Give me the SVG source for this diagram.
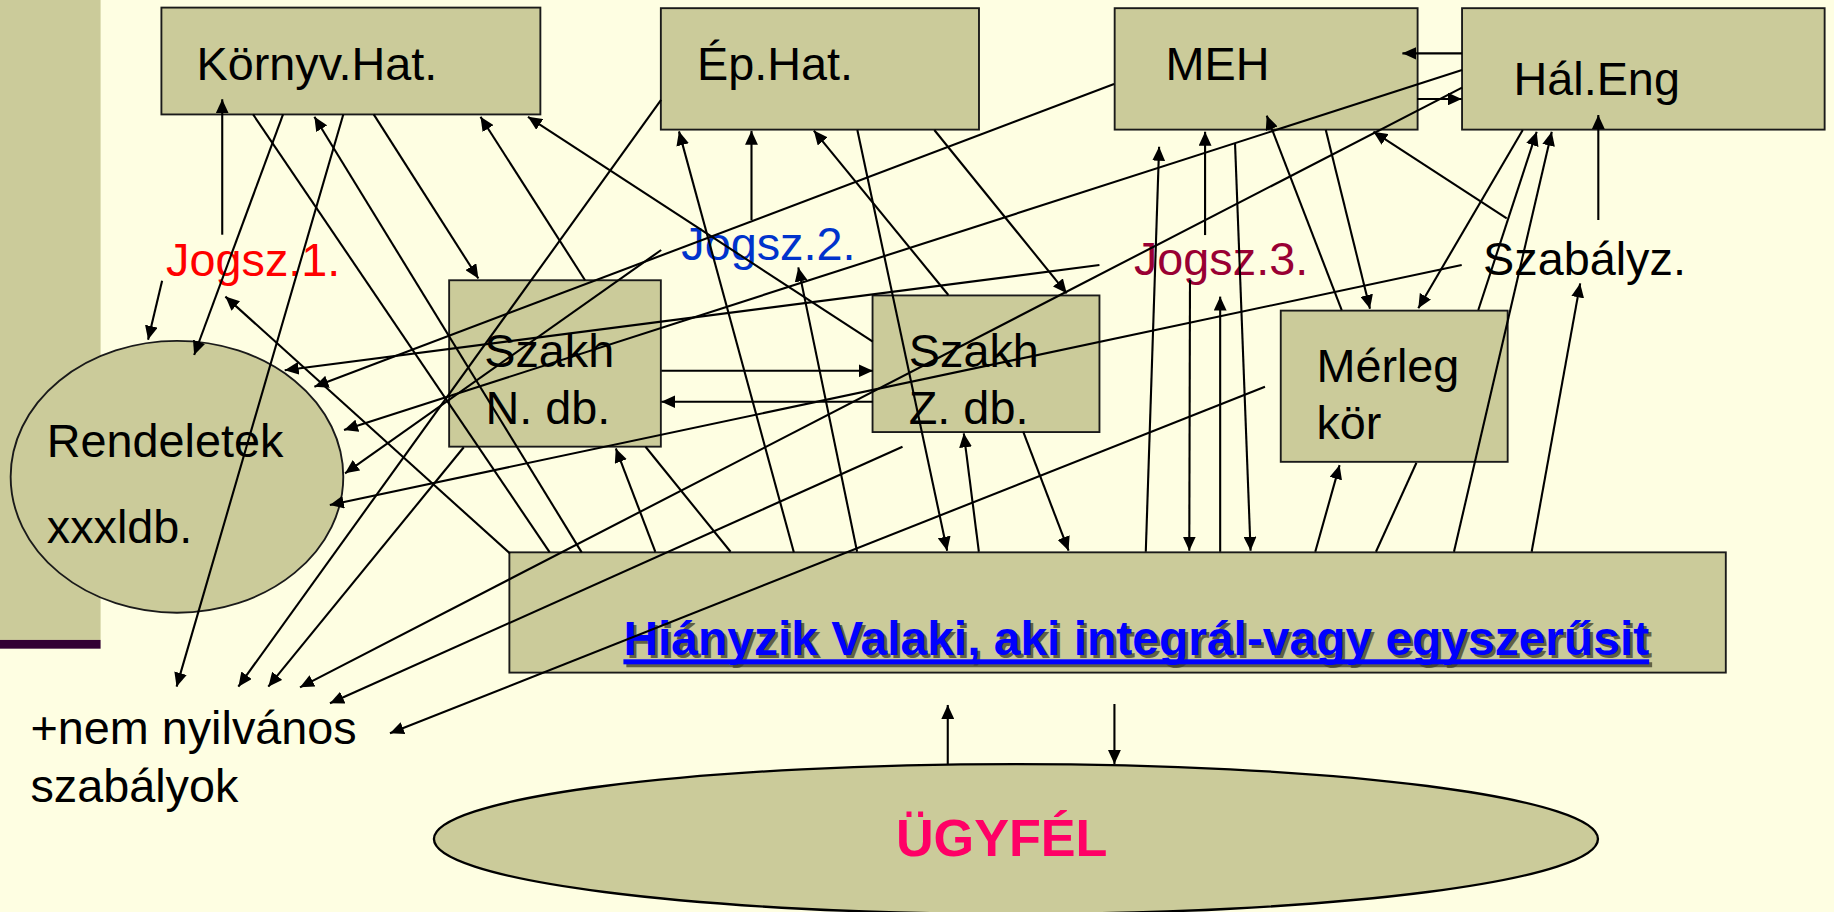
<svg xmlns="http://www.w3.org/2000/svg" width="1834" height="912" viewBox="0 0 1834 912">
<defs>
<marker id="ah" markerUnits="userSpaceOnUse" markerWidth="12" markerHeight="11" refX="12" refY="5.5" orient="auto" viewBox="0 0 12 11"><path d="M0,0 L12,5.5 L0,11 z" fill="#000"/></marker>
</defs>
<style>
.box{fill:#CBCB9A;stroke:#1a1a1a;stroke-width:1.6}
.t{font-family:"Liberation Sans",Arial,sans-serif;font-size:40px;fill:#000}
.b{font-family:"Liberation Sans",Arial,sans-serif;font-weight:bold}
.c path{fill:none;stroke:#000;stroke-width:1.8}
.c path.a{marker-end:url(#ah)}
</style>
<rect width="1834" height="912" fill="#FEFEE2"/>
<g transform="scale(1.16964,1.16773)">
<g id="sidebar">
<rect x="0" y="0" width="86" height="548" fill="#CBCB9A"/>
<rect x="0" y="548" width="86" height="7.5" fill="#330033"/>
</g>
<g id="kornyv"><rect class="box" x="138" y="6.5" width="324" height="91.5"/><text class="t" x="168" y="68.5">Környv.Hat.</text></g>
<g id="ephat"><rect class="box" x="565" y="7" width="272" height="104"/><text class="t" x="596" y="68.5">Ép.Hat.</text></g>
<g id="meh"><rect class="box" x="953" y="7" width="259" height="104"/><text class="t" x="996.5" y="68.5">MEH</text></g>
<g id="haleng"><rect class="box" x="1250" y="7" width="310" height="104"/><text class="t" x="1294" y="81.5">Hál.Eng</text></g>
<g id="szakhn"><rect class="box" x="384" y="240" width="181" height="142.5"/><text class="t" x="414" y="314">Szakh</text><text class="t" x="415" y="363">N. db.</text></g>
<g id="szakhz"><rect class="box" x="746" y="253" width="194" height="117"/><text class="t" x="777" y="314">Szakh</text><text class="t" x="777" y="363">Z. db.</text></g>
<g id="merleg"><rect class="box" x="1095" y="266" width="194" height="129.5"/><text class="t" x="1125.5" y="327.5">Mérleg</text><text class="t" x="1125.5" y="376">kör</text></g>
<g id="rendeletek"><ellipse class="box" cx="151.3" cy="408.3" rx="142.2" ry="116.4"/><text class="t" x="40" y="391">Rendeletek</text><text class="t" x="40" y="465.3">xxxldb.</text></g>
<g id="hianyzik"><rect class="box" x="435.5" y="473" width="1040" height="103"/>
<text class="b" x="535.5" y="563.5" font-size="41" fill="#3d3d28" fill-opacity="0.75" textLength="877" lengthAdjust="spacingAndGlyphs">Hiányzik Valaki, aki integrál-vagy egyszerűsit</text>
<rect x="535.5" y="567.1" width="877" height="4.3" fill="#3d3d28" fill-opacity="0.75"/>
<text class="b" x="533" y="561" font-size="41" fill="#0000FF" textLength="877" lengthAdjust="spacingAndGlyphs">Hiányzik Valaki, aki integrál-vagy egyszerűsit</text>
<rect x="533" y="564.6" width="877" height="4.3" fill="#0000FF"/>
</g>
<g id="ugyfel"><ellipse cx="868.6" cy="718.5" rx="497.6" ry="64.2" fill="#CBCB9A" stroke="#000" stroke-width="2"/><text class="b" x="766" y="733" font-size="44.6" fill="#FF0066">ÜGYFÉL</text></g>
<g id="jogsz1"><text class="t" x="142" y="236.4" fill="#FF0000" style="fill:#FF0000">Jogsz.1.</text></g>
<g id="jogsz2"><text class="t" x="582.5" y="222.7" style="fill:#0033CC">Jogsz.2.</text></g>
<g id="jogsz3"><text class="t" x="969.5" y="235.5" style="fill:#990033">Jogsz.3.</text></g>
<g id="szabalyz"><text class="t" x="1268" y="235.5">Szabályz.</text></g>
<g id="nemnyilv"><text class="t" x="26" y="637">+nem nyilvános</text><text class="t" x="26" y="686.5">szabályok</text></g>
<g id="connectors" class="c">
<path class="a" d="M190,201 L190,85"/>
<path class="a" d="M138.6,240.4 L126.6,291"/>
<path class="a" d="M242,98 L166,304"/>
<path class="a" d="M293.5,98 L151,588"/>
<path d="M216.4,98 L470,473"/>
<path class="a" d="M497.3,473 L268.8,100"/>
<path class="a" d="M319.5,98 L409,238.5"/>
<path class="a" d="M500.2,240 L410.8,100"/>
<path class="a" d="M746.2,292.6 L451.4,100"/>
<path class="a" d="M565.2,85.6 L203.8,588"/>
<path class="a" d="M436,474 L192.7,254"/>
<path class="a" d="M940,227 L243.4,317"/>
<path class="a" d="M952.5,72 L268.8,331.2"/>
<path class="a" d="M1250,60 L294.1,368.3"/>
<path class="a" d="M1250,75 L256.5,588.6"/>
<path class="a" d="M565.3,214.1 L295,405.3"/>
<path class="a" d="M1249.7,227 L282,432.5"/>
<path class="a" d="M396.5,383 L229.4,588"/>
<path class="a" d="M771.6,382.6 L282.1,602.3"/>
<path class="a" d="M1081.5,331.2 L333.4,628"/>
<path class="a" d="M642.5,188.4 L642.5,112"/>
<path class="a" d="M678.7,473 L580.5,112.5"/>
<path class="a" d="M810.8,252.6 L695.8,111.8"/>
<path class="a" d="M733,111.3 L809.8,471.6"/>
<path class="a" d="M798.8,111.3 L912,251.2"/>
<path class="a" d="M732.8,472.5 L682.5,229"/>
<path class="a" d="M979.6,472.5 L991,125.6"/>
<path class="a" d="M1030.3,201.3 L1030.3,112.8"/>
<path class="a" d="M1017.4,239.8 L1016.8,471.6"/>
<path class="a" d="M1043.2,472.5 L1043.2,254"/>
<path class="a" d="M1250,45.7 L1199,45.7"/>
<path class="a" d="M1211.6,84.8 L1249.7,84.8"/>
<path class="a" d="M1147.1,265.5 L1083,99"/>
<path class="a" d="M1133.5,111.3 L1171.3,264.5"/>
<path class="a" d="M1055.9,122.7 L1069.2,471.6"/>
<path class="a" d="M1301.9,111.3 L1212.6,264"/>
<path class="a" d="M1263.9,265.5 L1313.8,112.8"/>
<path class="a" d="M1243.1,472.5 L1326.7,112.8"/>
<path class="a" d="M1288.2,187 L1174.2,112.8"/>
<path class="a" d="M1366.5,188.4 L1366.5,98.5"/>
<path class="a" d="M1309.5,472.5 L1351,242.7"/>
<path class="a" d="M1124.5,472.5 L1145.3,398.3"/>
<path d="M1211,396.3 L1176.4,472.5"/>
<path class="a" d="M565.4,317.5 L746.3,317.5"/>
<path class="a" d="M746.3,344 L565.4,344"/>
<path class="a" d="M560.3,472.5 L526.5,384"/>
<path d="M551.9,382.6 L624.6,472.5"/>
<path class="a" d="M836.9,472.5 L824,371.1"/>
<path class="a" d="M874.8,369.7 L913.6,471.6"/>
<path class="a" d="M810.3,654.3 L810.3,603.7"/>
<path class="a" d="M952.8,602.9 L952.8,654.3"/>
</g>
</g>
</svg>
